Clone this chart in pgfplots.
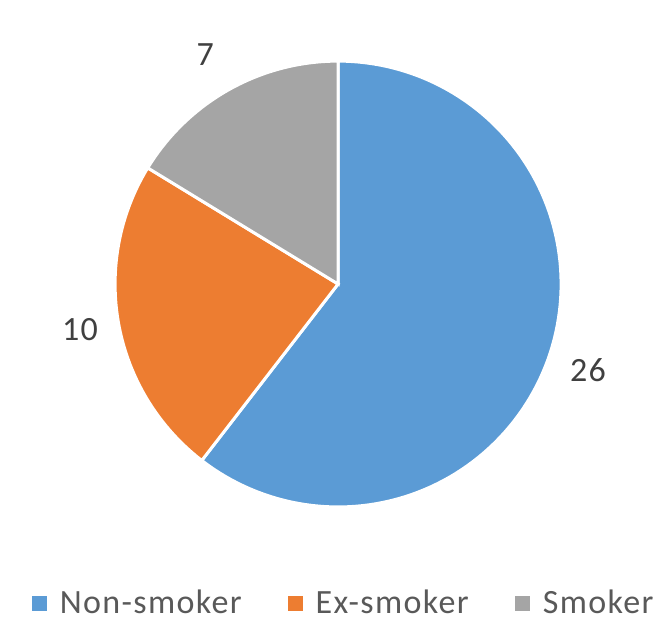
\documentclass[border=0pt]{standalone}
\usepackage{pgfplots}
\pgfplotsset{compat=1.18}
\usepackage{fontspec}
\setmainfont[LetterSpace=4]{Carlito}
\definecolor{pieblue}{HTML}{5B9BD5}
\definecolor{pieorange}{HTML}{ED7D31}
\definecolor{piegray}{HTML}{A5A5A5}
\definecolor{labelc}{HTML}{404040}
\definecolor{legc}{HTML}{595959}
\begin{document}
\begin{tikzpicture}
% data values
\def\valA{26}\def\valB{10}\def\valC{7}
\pgfmathsetmacro\tot{\valA+\valB+\valC}
\pgfmathsetmacro\angA{90-360*\valA/\tot}
\pgfmathsetmacro\angB{\angA-360*\valB/\tot}
\begin{axis}[
  scale only axis, width=329.5pt, height=310pt,
  xmin=-1.516, xmax=1.439, ymin=-1.507, ymax=1.274,
  hide axis, clip=false,
  font=\fontsize{17}{20}\selectfont,
  legend columns=3,
  legend style={draw=none, fill=none, at={(rel axis cs:0.523,0.0274)}, anchor=center,
    font=\fontsize{17}{20}\selectfont\color{legc},
    /tikz/every odd column/.append style={column sep=4.5pt},
    /tikz/every even column/.append style={column sep=21pt},
    inner sep=0pt, outer sep=0pt},
  legend image code/.code={\fill[draw=none] (0pt,-3.75pt) rectangle (7.5pt,3.75pt);},
]
\addplot[fill=pieblue, draw=white, line width=1.5pt, domain=\angA:90, samples=120, variable=\t]
  ({cos(t)},{sin(t)}) -- (axis cs:0,0) -- cycle;
\addlegendentry{Non-smoker}
\addplot[fill=pieorange, draw=white, line width=1.5pt, domain=\angB:\angA, samples=60, variable=\t]
  ({cos(t)},{sin(t)}) -- (axis cs:0,0) -- cycle;
\addlegendentry{Ex-smoker}
\addplot[fill=piegray, draw=white, line width=1.5pt, domain=-270:\angB, samples=50, variable=\t]
  ({cos(t)},{sin(t)}) -- (axis cs:0,0) -- cycle;
\addlegendentry{Smoker}
\node[text=labelc] at (axis cs:1.121,-0.386) {26};
\node[text=labelc] at (axis cs:-1.157,-0.206) {10};
\node[text=labelc] at (axis cs:-0.596,1.027) {7};
\path (rel axis cs:0,0) rectangle (rel axis cs:1,1);
\end{axis}
\end{tikzpicture}
\end{document}
